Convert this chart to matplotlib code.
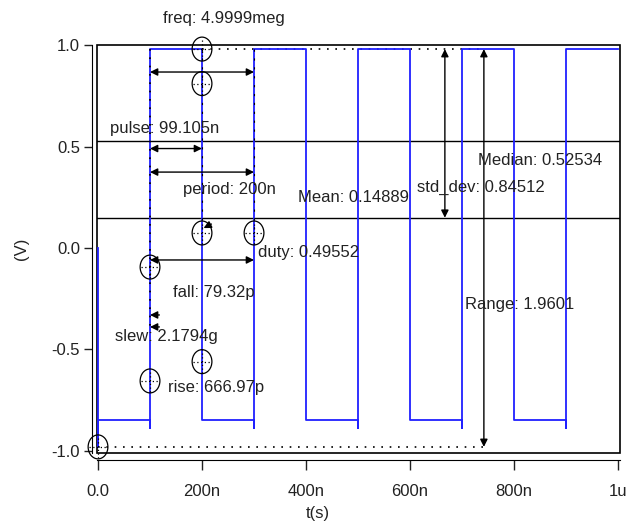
import numpy as np
import matplotlib
matplotlib.use('Agg')
import matplotlib.pyplot as plt
from matplotlib.patches import Ellipse, Rectangle

plt.rcParams['font.family'] = ['Liberation Sans', 'DejaVu Sans']

# waveform (time in ns, volts)
t_ns = [0, 0, 0, 100, 100, 100, 200, 200, 300, 300, 300, 400, 400,
        500, 500, 500, 600, 600, 700, 700, 700, 800, 800, 900, 900, 900, 1000]
v = [0.0, -0.98, -0.845, -0.845, -0.885, 0.98, 0.98, -0.845, -0.845, -0.885, 0.98, 0.98, -0.845,
     -0.845, -0.885, 0.98, 0.98, -0.845, -0.845, -0.885, 0.98, 0.98, -0.845, -0.845, -0.885, 0.98, 0.98]

x_ticks = [0, 200, 400, 600, 800, 1000]
x_ticklabels = ['0.0', '200n', '400n', '600n', '800n', '1u']
y_ticks = [1.0, 0.5, 0.0, -0.5, -1.0]
y_ticklabels = ['1.0', '0.5', '0.0', '-0.5', '-1.0']

v_max = 0.98
v_min = -0.98
v_mean = 0.14889
v_median = 0.52534

# measurement marker points (t ns, V)
markers = [(200, 0.98), (200, 0.81), (200, 0.074), (300, 0.074),
           (100, -0.094), (200, -0.56), (100, -0.655), (0, -0.98)]

# measurement labels: (text, t, v)
labels = [('freq: 4.9999meg', 125, 1.133),
          ('pulse: 99.105n', 23, 0.59),
          ('period: 200n', 163, 0.286),
          ('Mean: 0.14889', 385, 0.25),
          ('std_dev: 0.84512', 613, 0.296),
          ('Median: 0.52534', 731, 0.43),
          ('duty: 0.49552', 308, -0.02),
          ('fall: 79.32p', 144, -0.217),
          ('slew: 2.1794g', 33, -0.438),
          ('rise: 666.97p', 135, -0.685),
          ('Range: 1.9601', 706, -0.276)]

# double arrows: (t1, v1, t2, v2)
darrows = [(100, 0.867, 300, 0.867),
           (100, 0.49, 200, 0.49),
           (100, 0.374, 300, 0.374),
           (100, -0.059, 300, -0.059),
           (667, 0.98, 667, 0.149),
           (742, 0.98, 742, -0.98)]

fig = plt.figure(figsize=(6.28, 5.26), dpi=100)
ax = fig.add_axes([0.1545, 0.1388, 0.8328, 0.7756])

ax.plot(t_ns, v, color='#2020ff', lw=1.3, zorder=3)

ax.axhline(v_median, color='k', lw=1, zorder=2)
ax.axhline(v_mean, color='k', lw=1, zorder=2)
ax.plot([200, 742], [v_max, v_max], color='k', ls=(0, (1, 4)), lw=1.2)
ax.plot([0, 742], [v_min, v_min], color='k', ls=(0, (1, 4)), lw=1.2)
ax.plot([100, 100], [v_max, -0.4], color='k', ls=(0, (1, 4)), lw=1.2, zorder=4)
ax.plot([200, 200], [v_max, 0.1], color='k', ls=(0, (2, 6)), lw=0.8, zorder=4)
ax.plot([300, 300], [v_max, 0.1], color='k', ls=(0, (2, 6)), lw=0.8, zorder=4)

for t1, v1, t2, v2 in darrows:
    ax.annotate('', xy=(t1, v1), xytext=(t2, v2),
                arrowprops=dict(arrowstyle='<|-|>', color='k', lw=1,
                                mutation_scale=11, shrinkA=0, shrinkB=0))
# single small arrows (slew + duty pointer)
for t1, v1, t2, v2 in [(100, -0.33, 118, -0.33), (100, -0.389, 118, -0.389), (203, 0.098, 218, 0.118)]:
    ax.annotate('', xy=(t1, v1), xytext=(t2, v2),
                arrowprops=dict(arrowstyle='-|>', color='k', lw=1,
                                mutation_scale=11, shrinkA=0, shrinkB=0))

for mt, mv in markers:
    ax.add_patch(Ellipse((mt, mv), 38, 0.118, fill=False, ec='k', lw=0.9, zorder=5, clip_on=False))
    ax.plot([mt - 17, mt + 17], [mv, mv], color='k', ls=(0, (1, 2)), lw=0.9, zorder=5, clip_on=False)
    ax.plot([mt, mt], [mv - 0.055, mv + 0.055], color='k', ls=(0, (1, 2)), lw=0.9, zorder=5, clip_on=False)

for txt, tt, tv in labels:
    ax.text(tt, tv, txt, fontsize=12, color='#222222', va='center', ha='left', clip_on=False, zorder=6)

ax.set_xlim(-1.9, 1003.8)
ax.set_ylim(-1.01, 1.0)
ax.set_xticks(x_ticks)
ax.set_xticklabels(x_ticklabels)
ax.set_yticks(y_ticks)
ax.set_yticklabels(y_ticklabels)
ax.tick_params(labelsize=12, width=1, colors='#222222', direction='out')
ax.tick_params(axis='x', length=7, pad=10)
ax.tick_params(axis='y', length=5.5, pad=3)

ax.spines['left'].set_position(('outward', 3.6))
ax.spines['bottom'].set_position(('outward', 5))
ax.spines['top'].set_visible(False)
ax.spines['right'].set_visible(False)
ax.add_patch(Rectangle((0, 0), 1, 1, transform=ax.transAxes, fill=False, ec='k', lw=1.2, clip_on=False, zorder=1))

ax.set_xlabel('t(s)', fontsize=12, color='#222222')
ax.set_ylabel('(V)', fontsize=12, color='#222222')
ax.xaxis.set_label_coords(0.4226, -0.13)
ax.yaxis.set_label_coords(-0.13, 0.5)

fig.savefig('out.png', dpi=100)
